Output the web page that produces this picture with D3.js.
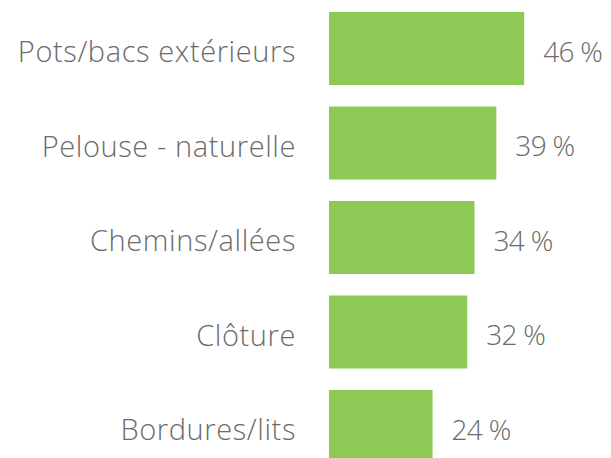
<!DOCTYPE html>
<html>
<head>
<meta charset="utf-8">
<script src="https://cdn.jsdelivr.net/npm/d3@7"></script>
<style>
  body { margin: 0; background: #fff; }
  svg text { font-family: "Open Sans", Lato, sans-serif; font-weight: 300; fill: #6b6b6b; }
</style>
</head>
<body>
<div id="content"></div>
<script>
const categories = ["Pots/bacs extérieurs", "Pelouse - naturelle", "Chemins/allées", "Clôture", "Bordures/lits"];
const values = [45.6, 39.1, 34.0, 32.3, 24.2];

const width = 611, height = 458;
const x0 = 329;

var svg = d3.select("#content")
    .append("svg")
    .attr("width", width)
    .attr("height", height);

const x = d3.scaleLinear()
    .domain([0, 100])
    .range([0, 428]);

const y = d3.scaleBand()
    .domain(categories)
    .range([12, 463])
    .paddingInner(0.2275)
    .paddingOuter(0);

let rows = svg.selectAll("g.row")
    .data(categories)
    .enter()
    .append("g")
    .attr("class", "row");

rows.append("rect")
    .attr("x", x0)
    .attr("y", function (d) { return y(d); })
    .attr("width", function (d, i) { return x(values[i]); })
    .attr("height", y.bandwidth())
    .style("fill", "#8cc955");

rows.append("text")
    .attr("x", x0 - 33)
    .attr("y", function (d) { return y(d) + y.bandwidth() / 2; })
    .attr("dy", "0.47em")
    .attr("text-anchor", "end")
    .style("font-size", "29px")
    .style("letter-spacing", "0.6px")
    .text(function (d) { return d; });

rows.append("text")
    .attr("x", function (d, i) { return x0 + x(values[i]) + 19; })
    .attr("y", function (d) { return y(d) + y.bandwidth() / 2; })
    .attr("dy", "0.47em")
    .style("font-size", "28px")
    .style("letter-spacing", "-0.7px")
    .text(function (d, i) { return Math.round(values[i]) + " %"; });
</script>
</body>
</html>
